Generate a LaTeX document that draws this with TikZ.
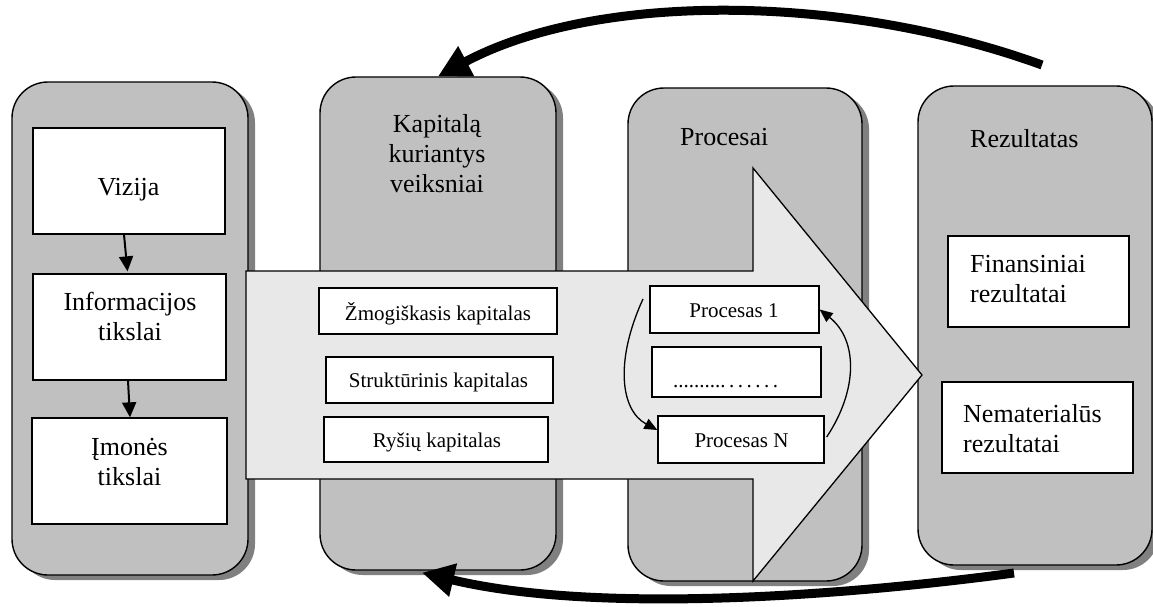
\documentclass[tikz,border=0pt]{standalone}
\usepackage{fontspec}
\setmainfont{Liberation Serif}
\usetikzlibrary{arrows.meta,shadows}
\definecolor{colgray}{HTML}{C0C0C0}
\definecolor{shadowgray}{HTML}{808080}
\definecolor{arrowgray}{HTML}{E8E8E8}
\frenchspacing
\begin{document}
\begin{tikzpicture}[x=1pt,y=-1pt,
  colbox/.style={draw, line width=1.4pt, fill=colgray, rounded corners=36pt, inner sep=0,
    drop shadow={shadow xshift=7pt, shadow yshift=-5pt, fill=shadowgray, opacity=1}},
  wbox/.style={draw, line width=1.3pt, fill=white, inner sep=0},
  bigtxt/.style={font=\fontsize{26pt}{30pt}\selectfont, inner sep=0},
  smalltxt/.style={font=\fontsize{21pt}{25pt}\selectfont, inner sep=0},
  bigarrow/.style={draw, line width=1.3pt, fill=arrowgray, line join=miter},
  downarrow/.style={line width=2pt, -{Triangle[length=15pt,width=14pt]}},
  looparrow/.style={line width=1.3pt, -{Triangle[length=13pt,width=11pt]}},
  feedback/.style={line width=9pt, -{Triangle[length=32pt,width=32pt]}}
]
\path[use as bounding box, fill=white] (0,0) rectangle (1153,607);

% the four stages
\node[colbox, minimum width=236pt, minimum height=493pt] (c1) at (130,328.5) {};
\node[colbox, minimum width=236pt, minimum height=493pt] (c2) at (438,323.5) {};
\node[colbox, minimum width=234pt, minimum height=493pt] (c3) at (745,334.5) {};
\node[colbox, minimum width=234pt, minimum height=479pt] (c4) at (1035,325.5) {};

% stage titles
\node[bigtxt, text width=200pt, align=center, anchor=base] (t2) at (437,132) {Kapitalą\\kuriantys\\veiksniai};
\node[bigtxt, anchor=base west] (t3) at (680,145) {Procesai};
\node[bigtxt, anchor=base west] (t4) at (970,147) {Rezultatas};

% goals chain
\node[wbox, minimum width=192pt, minimum height=106pt] (viz) at (129,181) {};
\node[wbox, minimum width=193pt, minimum height=106pt] (info) at (129.5,327) {};
\node[wbox, minimum width=195pt, minimum height=106pt] (imon) at (129.5,471) {};
\node[bigtxt, anchor=base] (tviz) at (128.5,195) {Vizija};
\node[bigtxt, text width=180pt, align=center, anchor=base] (tinfo) at (130,310) {Informacijos\\tikslai};
\node[bigtxt, text width=180pt, align=center, anchor=base] (timon) at (129.5,455) {Įmonės\\tikslai};
\draw[downarrow] ([xshift=-5pt]viz.south) -- ([xshift=-2pt,yshift=2pt]info.north);
\draw[downarrow] ([xshift=-1.5pt]info.south) -- ([xshift=0.5pt]imon.north);

% results
\node[wbox, minimum width=181pt, minimum height=91pt] (fin) at (1038.5,281.5) {};
\node[wbox, minimum width=191pt, minimum height=91pt] (nem) at (1037.5,427.5) {};
\node[bigtxt, text width=150pt, align=left, anchor=base west] (tfin) at (970,272) {Finansiniai\\rezultatai};
\node[bigtxt, text width=160pt, align=left, anchor=base west] (tnem) at (963,422) {Nematerialūs\\rezultatai};

% main flow arrow
\path[bigarrow] (246,271) -- (753,271) -- (753,168) -- (922,375) -- (753,581)
  -- (753,479) -- (246,479) -- cycle;

% capital components
\node[wbox, minimum width=238pt, minimum height=46pt] (zmog) at (438,311) {};
\node[wbox, minimum width=227pt, minimum height=46pt] (strk) at (439.5,380) {};
\node[wbox, minimum width=224pt, minimum height=45pt] (rys) at (436,439.5) {};
\node[smalltxt, anchor=base] (tzmog) at (438,320) {Žmogiškasis kapitalas};
\node[smalltxt, anchor=base] (tstrk) at (438.5,387) {Struktūrinis kapitalas};
\node[smalltxt, anchor=base] (trys) at (437,447) {Ryšių kapitalas};

% processes
\node[wbox, minimum width=169pt, minimum height=47pt] (p1) at (734.5,309.5) {};
\node[wbox, minimum width=169pt, minimum height=50pt] (pdots) at (736.5,372) {};
\node[wbox, minimum width=166pt, minimum height=47pt] (pN) at (741,439.5) {};
\node[smalltxt, anchor=base] (tp1) at (734,317) {Procesas 1};
\node[smalltxt, anchor=base west] (tpdots) at (673,387) {..........\,.\,.\,.\,.\,.\,.};
\node[smalltxt, anchor=base] (tpN) at (741.5,447) {Procesas N};
\coordinate (loopstart) at (643,299);
\draw[looparrow] (loopstart) .. controls (615,360) and (620,410) .. ([yshift=9.5pt]pN.west);
\draw[looparrow] ([xshift=2pt,yshift=2.5pt]pN.east) .. controls (858,390) and (858,340) .. (p1.east);

% feedback loops
\coordinate (topstart) at (1042,65);
\coordinate (botstart) at (1014,573);
\draw[feedback] (topstart) .. controls (850,-5) and (600,-10) .. (c2.north);
\draw[feedback] (botstart) .. controls (850,595) and (600,615) .. ([xshift=-16pt,yshift=-2pt]c2.south);
\end{tikzpicture}
\end{document}
